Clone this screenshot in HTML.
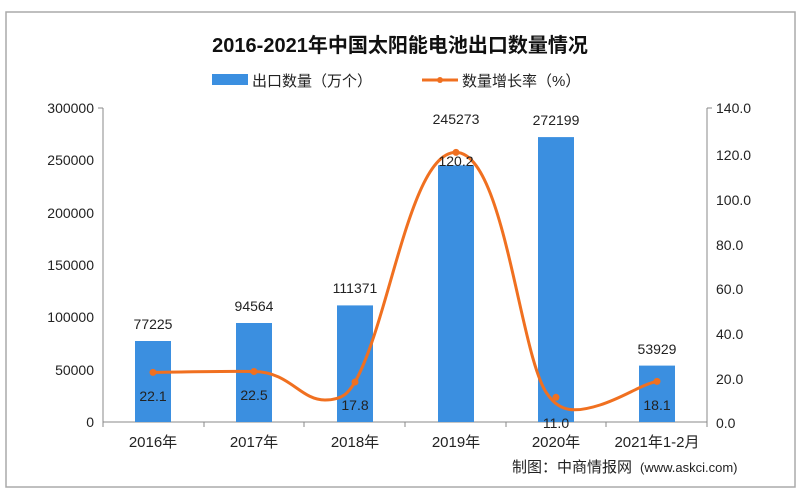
<!DOCTYPE html><html><head><meta charset="utf-8"><style>body{margin:0;background:#fff}svg{display:block}text{font-family:"Liberation Sans","Noto Sans CJK SC",sans-serif}</style></head><body>
<svg width="800" height="497" viewBox="0 0 800 497">
<rect x="6" y="12" width="789" height="475" fill="#fff" stroke="#aaa" stroke-width="1.5"/>
<text x="400" y="52" text-anchor="middle" font-size="20" font-weight="bold" fill="#111">2016-2021年中国太阳能电池出口数量情况</text>
<rect x="212" y="74" width="36" height="11" fill="#3b8fe0"/>
<text x="252" y="86" font-size="15" fill="#222">出口数量（万个）</text>
<line x1="422" y1="80" x2="458" y2="80" stroke="#f07020" stroke-width="3"/><circle cx="440" cy="80" r="3" fill="#f07020"/>
<text x="462" y="86" font-size="15" fill="#222">数量增长率（%）</text>
<g stroke="#888" stroke-width="1"><line x1="103" y1="108" x2="103" y2="422"/><line x1="103" y1="422" x2="707" y2="422"/><line x1="707" y1="108" x2="707" y2="422"/>
<line x1="98" y1="108" x2="103" y2="108"/><line x1="707" y1="108" x2="712" y2="108"/>
<line x1="204" y1="422" x2="204" y2="427"/><line x1="304" y1="422" x2="304" y2="427"/><line x1="405" y1="422" x2="405" y2="427"/><line x1="506" y1="422" x2="506" y2="427"/><line x1="606" y1="422" x2="606" y2="427"/><line x1="103" y1="422" x2="103" y2="427"/><line x1="707" y1="422" x2="707" y2="427"/></g>
<g font-size="14" fill="#222" text-anchor="end"><text x="94" y="113">300000</text><text x="94" y="165">250000</text><text x="94" y="218">200000</text><text x="94" y="270">150000</text><text x="94" y="322">100000</text><text x="94" y="375">50000</text><text x="94" y="427">0</text></g>
<g font-size="14" fill="#222"><text x="716" y="113">140.0</text><text x="716" y="160">120.0</text><text x="716" y="205">100.0</text><text x="716" y="250">80.0</text><text x="716" y="294">60.0</text><text x="716" y="339">40.0</text><text x="716" y="384">20.0</text><text x="716" y="428">0.0</text></g>
<g fill="#3b8fe0"><rect x="135" y="341" width="36" height="81"/><rect x="236" y="323" width="36" height="99"/><rect x="337" y="305.4" width="36" height="116.6"/><rect x="438" y="165.3" width="36" height="256.7"/><rect x="538" y="137.1" width="36" height="284.9"/><rect x="639" y="365.6" width="36" height="56.4"/></g>
<path d="M153,372.4 C190,372 220,371 254,371.5 C290,372 300,400 325,400 C345,400 350,390 355,382 C390,320 410,152 456,152.4 C505,153 520,360 548,395 C560,412 575,413 600,405 C625,397 640,385 657,381.4" fill="none" stroke="#f07020" stroke-width="3"/>
<g fill="#f07020"><circle cx="153" cy="372.4" r="3.5"/><circle cx="254" cy="371.5" r="3.5"/><circle cx="355" cy="382" r="3.5"/><circle cx="456" cy="152.4" r="3.5"/><circle cx="556" cy="397.3" r="3.5"/><circle cx="657" cy="381.4" r="3.5"/></g>
<g font-size="14" fill="#222" text-anchor="middle"><text x="153" y="329">77225</text><text x="254" y="311">94564</text><text x="355" y="293">111371</text><text x="456" y="124">245273</text><text x="556" y="125">272199</text><text x="657" y="354">53929</text>
<text x="153" y="401">22.1</text><text x="254" y="400">22.5</text><text x="355" y="410">17.8</text><text x="456" y="166">120.2</text><text x="556" y="428">11.0</text><text x="657" y="410">18.1</text></g>
<g font-size="15" fill="#222" text-anchor="middle"><text x="153" y="447">2016年</text><text x="254" y="447">2017年</text><text x="355" y="447">2018年</text><text x="456" y="447">2019年</text><text x="556" y="447">2020年</text><text x="657" y="447">2021年1-2月</text></g>
<text x="512" y="472" font-size="15" fill="#222">制图：中商情报网</text><text x="640" y="472" font-size="13" fill="#222">(www.askci.com)</text>
</svg></body></html>
